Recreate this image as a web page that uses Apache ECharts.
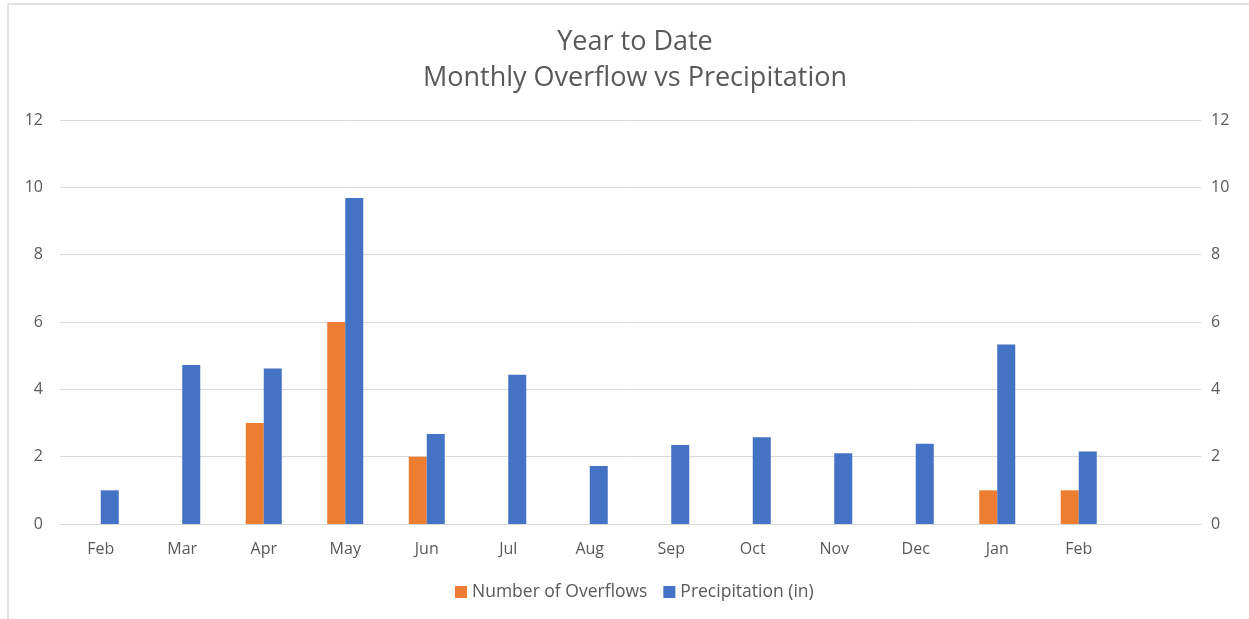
<!DOCTYPE html>
<html><head><meta charset="utf-8">
<script src="https://cdn.jsdelivr.net/npm/echarts@6/dist/echarts.min.js"></script>
<style>html,body{margin:0;padding:0;background:#fff}#c{width:1249px;height:619px}</style>
</head><body><div id="c"></div>
<script>
const months = ['Feb','Mar','Apr','May','Jun','Jul','Aug','Sep','Oct','Nov','Dec','Jan','Feb',''];
const overflows = [0,0,3,6,2,0,0,0,0,0,0,1,1,null];
const precipitation = [1.0,4.72,4.62,9.68,2.67,4.43,1.72,2.35,2.58,2.1,2.38,5.33,2.15,null];
const yTicks = {min:0,max:12,interval:2};
const font = 'Open Sans';
const chart = echarts.init(document.getElementById('c'));
chart.setOption({
  animation:false,
  backgroundColor:'#fff',
  graphic:[
    {type:'line',shape:{x1:8,y1:4,x2:8,y2:619},style:{stroke:'#d9d9d9',lineWidth:1.5}},
    {type:'line',shape:{x1:8,y1:4,x2:1249,y2:4},style:{stroke:'#d9d9d9',lineWidth:1.5}}
  ],
  title:{text:'Year to Date\nMonthly Overflow vs Precipitation',left:630,textAlign:'center',top:19,
    textStyle:{fontFamily:font,fontSize:27,fontWeight:'normal',color:'#595959',lineHeight:36}},
  legend:{bottom:13,left:450,itemWidth:12,itemHeight:12,itemGap:16,icon:'rect',
    textStyle:{fontFamily:font,fontSize:17.5,color:'#595959'},data:['Number of Overflows','Precipitation (in)']},
  grid:{left:60,right:48,top:120,bottom:95},
  xAxis:{type:'category',data:months,
    axisLine:{show:true,lineStyle:{color:'#d9d9d9'}},axisTick:{show:false},
    axisLabel:{fontFamily:font,fontSize:16,color:'#595959',margin:17,interval:0}},
  yAxis:[
    {type:'value',min:yTicks.min,max:yTicks.max,interval:yTicks.interval,
     axisLine:{show:false},axisTick:{show:false},
     axisLabel:{fontFamily:font,fontSize:16,color:'#595959',margin:17},
     splitLine:{lineStyle:{color:'#d9d9d9'}}},
    {type:'value',min:yTicks.min,max:yTicks.max,interval:yTicks.interval,position:'right',
     axisLine:{show:false},axisTick:{show:false},
     axisLabel:{fontFamily:font,fontSize:16,color:'#595959',margin:10},
     splitLine:{show:false}}
  ],
  series:[
    {name:'Number of Overflows',type:'bar',data:overflows,yAxisIndex:0,barWidth:18,barGap:'0%',
     itemStyle:{color:'#ed7d31'}},
    {name:'Precipitation (in)',type:'bar',data:precipitation,yAxisIndex:1,barWidth:18,barGap:'0%',
     itemStyle:{color:'#4472c4'}}
  ]
});
</script></body></html>
